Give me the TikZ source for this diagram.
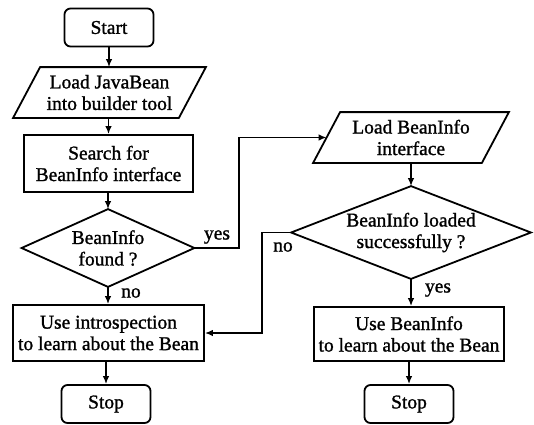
\documentclass[tikz,border=0pt]{standalone}
\usepackage{fontspec}
\setmainfont[FakeBold=1.2]{Liberation Serif}
\usetikzlibrary{arrows.meta,calc}
\begin{document}
\begin{tikzpicture}[x=1pt,y=1pt,
  line width=1.8pt,
  every node/.style={font=\fontsize{19.5}{21.5}\selectfont, inner sep=0pt, align=center},
  term/.style={draw, rounded corners=6pt, minimum width=89pt, minimum height=38pt},
  proc/.style={draw, minimum height=56pt},
  io/.style={minimum height=49pt},
  dec/.style={minimum width=#1},
  arr/.style={-{Latex[length=8pt,width=6.5pt]}, line width=1.5pt},
  lbl/.style={font=\fontsize{19.5}{21.5}\selectfont}
]
\useasboundingbox (0,0) rectangle (534,-424);

% left column
\node[term] (start) at (109,-27.5) {Start};
\node[io, minimum width=191pt] (p1) at (109.5,-92.5) {Load JavaBean\\into builder tool};
\draw ($(p1.north west)+(27,0)$) -- (p1.north east) -- ($(p1.south east)-(27,0)$) -- (p1.south west) -- cycle;
\node[proc, minimum width=169pt, minimum height=57pt] (search) at (108.5,-163.5) {Search for\\BeanInfo interface};
\node[minimum width=171pt, minimum height=76pt] (d1) at (108,-248) {BeanInfo\\found ?};
\draw (d1.north) -- (d1.east) -- (d1.south) -- (d1.west) -- cycle;
\node[proc, minimum width=191pt] (intro) at (108.5,-333) {Use introspection\\to learn about the Bean};
\node[term] (stop1) at (106,-404) {Stop};

% right column
\node[io, minimum width=194pt] (p2) at (411,-137.5) {Load BeanInfo\\interface};
\draw ($(p2.north west)+(27,0)$) -- (p2.north east) -- ($(p2.south east)-(27,0)$) -- (p2.south west) -- cycle;
\coordinate (p2in) at ($(p2.west)+(13.5,0)$);
\node[minimum width=238pt, minimum height=91pt] (d2) at (411,-232.5) {BeanInfo loaded\\successfully ?};
\draw (d2.north) -- (d2.east) -- (d2.south) -- (d2.west) -- cycle;
\node[proc, minimum width=190pt, minimum height=54pt] (bi) at (409,-334) {Use BeanInfo\\to learn about the Bean};
\node[term] (stop2) at (409,-404) {Stop};

% labels
\node[lbl] (yes1) at (217,-237) {yes};
\node[lbl] (no1) at (131,-293) {no};
\node[lbl] (no2) at (283,-247) {no};
\node[lbl] (yes2) at (438,-290) {yes};

% connectors
\draw[arr] (start.south) -- (start.south |- p1.north);
\draw[arr] (p1.south -| search.north) -- (search.north);
\draw[arr] (search.south -| d1.north) -- (d1.north);
\draw[arr] (d1.south) -- (d1.south |- intro.north);
\draw[arr] (intro.south -| stop1.north) -- (stop1.north);

\coordinate (yc) at (239,-137.5);
\draw[arr] (d1.east) -| (yc) -- (p2in);
\draw[arr] (p2.south -| d2.north) -- (d2.north);
\draw[arr] (d2.south) -- (d2.south |- bi.north);
\draw[arr] (bi.south -| stop2.north) -- (stop2.north);

\coordinate (nc) at (262,-232.5);
\draw[arr] (d2.west) -- (nc) -- (nc |- intro.east) -- (intro.east);
\end{tikzpicture}
\end{document}
